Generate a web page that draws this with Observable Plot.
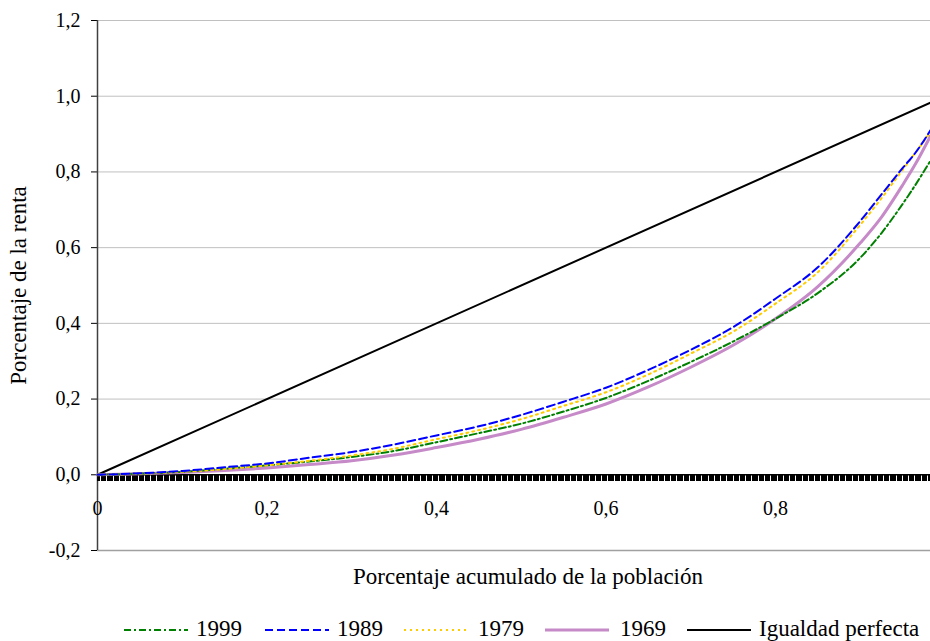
<!DOCTYPE html>
<html>
<head>
<meta charset="utf-8">
<script src="https://cdn.jsdelivr.net/npm/d3@7"></script>
<script src="https://cdn.jsdelivr.net/npm/@observablehq/plot@0.6"></script>
<style>
  body { margin: 0; background: #fff; }
  #wrap { position: relative; width: 930px; height: 641px; font-family: "Liberation Serif", "DejaVu Serif", serif; color: #000; }
  #xtitle { position: absolute; top: 563px; left: 250px; width: 556px; text-align: center; font-size: 23px; line-height: 28px; }
  .leg { position: absolute; top: 616px; font-size: 23px; line-height: 26px; white-space: nowrap; }
  .sw { position: absolute; top: 616px; }
</style>
</head>
<body>
<div id="wrap"></div>
<script>
// Cumulative population share (x) and income share per year (y)
const popShare = [0, 0.05, 0.1, 0.15, 0.2, 0.25, 0.3, 0.35, 0.4, 0.45, 0.5, 0.55, 0.6, 0.65, 0.7, 0.75, 0.8, 0.85, 0.9, 0.925, 0.95, 0.965, 0.983];
const y1999 = [0, 0.003, 0.008, 0.016, 0.025, 0.035, 0.047, 0.063, 0.086, 0.11, 0.135, 0.167, 0.203, 0.248, 0.298, 0.352, 0.412, 0.48, 0.573, 0.638, 0.715, 0.765, 0.83];
const y1989 = [0, 0.004, 0.01, 0.02, 0.03, 0.045, 0.06, 0.08, 0.104, 0.128, 0.158, 0.193, 0.23, 0.277, 0.33, 0.39, 0.465, 0.548, 0.67, 0.74, 0.81, 0.85, 0.91];
const y1979 = [0, 0.003, 0.008, 0.015, 0.025, 0.037, 0.051, 0.069, 0.094, 0.118, 0.147, 0.182, 0.218, 0.265, 0.32, 0.378, 0.452, 0.535, 0.66, 0.73, 0.805, 0.85, 0.905];
const y1969 = [0, 0.003, 0.006, 0.011, 0.018, 0.027, 0.037, 0.052, 0.072, 0.094, 0.12, 0.152, 0.187, 0.232, 0.284, 0.342, 0.412, 0.497, 0.612, 0.68, 0.765, 0.82, 0.895];
const equality = [0, 0.983];

const seriesNames = ["1999", "1989", "1979", "1969", "Igualdad perfecta"];
const xTicks = [0, 0.2, 0.4, 0.6, 0.8];
const yTicks = [-0.2, 0, 0.2, 0.4, 0.6, 0.8, 1.0, 1.2];

const colors = ["#008000", "#0000ff", "#ffcc00", "#c68ac8", "#000000"];
const dashes = ["7,3,2,3", "8,4", "2,4", null, null];
const widths = [2, 2, 2, 3, 2];

const toRows = (ys) => popShare.map((x, i) => ({x, y: ys[i]}));
const rows = [y1999, y1989, y1979, y1969].map(toRows);
const eqRows = equality.map(v => ({x: v, y: v}));

const comma = (d, digits) => d.toFixed(digits).replace(".", ",");
const minorTicks = d3.range(0, 0.983, 0.983 / 700);
const FONT = "'Liberation Serif', 'DejaVu Serif', serif";

const chart = Plot.plot({
  width: 930,
  height: 560,
  marginLeft: 97,
  marginRight: 0,
  marginTop: 20,
  marginBottom: 10,
  style: {fontFamily: FONT, fontSize: "20px", color: "#000", background: "#fff"},
  x: {domain: [0, 0.983], axis: null},
  y: {domain: [-0.2, 1.2], axis: null},
  marks: [
    Plot.ruleY(yTicks, {stroke: "#c0c0c0", strokeWidth: 1}),
    Plot.ruleY([-0.2], {stroke: "#a0a0a0", strokeWidth: 1.5}),
    Plot.axisY({
      ticks: yTicks, tickFormat: d => comma(d, 1), tickSize: 6, tickPadding: 11,
      stroke: "#000", label: null, fontSize: 20
    }),
    Plot.text(["Porcentaje de la renta"], {frameAnchor: "left", dx: -79, rotate: -90, textAnchor: "middle", fontSize: 23, text: d => d}),
    Plot.ruleX([0], {stroke: "#404040", strokeWidth: 1.5}),
    Plot.ruleX(minorTicks, {x: d => d, y1: 0, y2: -0.018, stroke: "#000", strokeWidth: 1, shapeRendering: "crispEdges"}),
    Plot.ruleY([0], {stroke: "#000", strokeWidth: 1.5}),
    Plot.text(xTicks, {x: d => d, y: 0, dy: 34, text: d => d === 0 ? "0" : comma(d, 1), fontSize: 20}),
    Plot.line(eqRows, {x: "x", y: "y", stroke: colors[4], strokeWidth: widths[4]}),
    ...[3, 0, 2, 1].map(i => Plot.line(rows[i], {
      x: "x", y: "y", stroke: colors[i], strokeWidth: widths[i],
      strokeDasharray: dashes[i], curve: "monotone-x"
    }))
  ]
});

const wrap = document.getElementById("wrap");
wrap.appendChild(chart);

const title = document.createElement("div");
title.id = "xtitle";
title.textContent = "Porcentaje acumulado de la población";
wrap.appendChild(title);

// Legend
const swX = [124, 265, 404, 545, 687];
const txtX = [196, 337, 478, 620, 759];
seriesNames.forEach((name, i) => {
  const sw = document.createElementNS("http://www.w3.org/2000/svg", "svg");
  sw.setAttribute("class", "sw");
  sw.setAttribute("width", 66);
  sw.setAttribute("height", 26);
  sw.style.left = swX[i] + "px";
  const ln = document.createElementNS("http://www.w3.org/2000/svg", "line");
  ln.setAttribute("x1", 0); ln.setAttribute("x2", 64);
  ln.setAttribute("y1", 14); ln.setAttribute("y2", 14);
  ln.setAttribute("stroke", colors[i]);
  ln.setAttribute("stroke-width", i === 3 ? 3 : 2);
  if (dashes[i]) ln.setAttribute("stroke-dasharray", dashes[i]);
  sw.appendChild(ln);
  wrap.appendChild(sw);
  const t = document.createElement("div");
  t.className = "leg";
  t.style.left = txtX[i] + "px";
  t.textContent = name;
  wrap.appendChild(t);
});
</script>
</body>
</html>
